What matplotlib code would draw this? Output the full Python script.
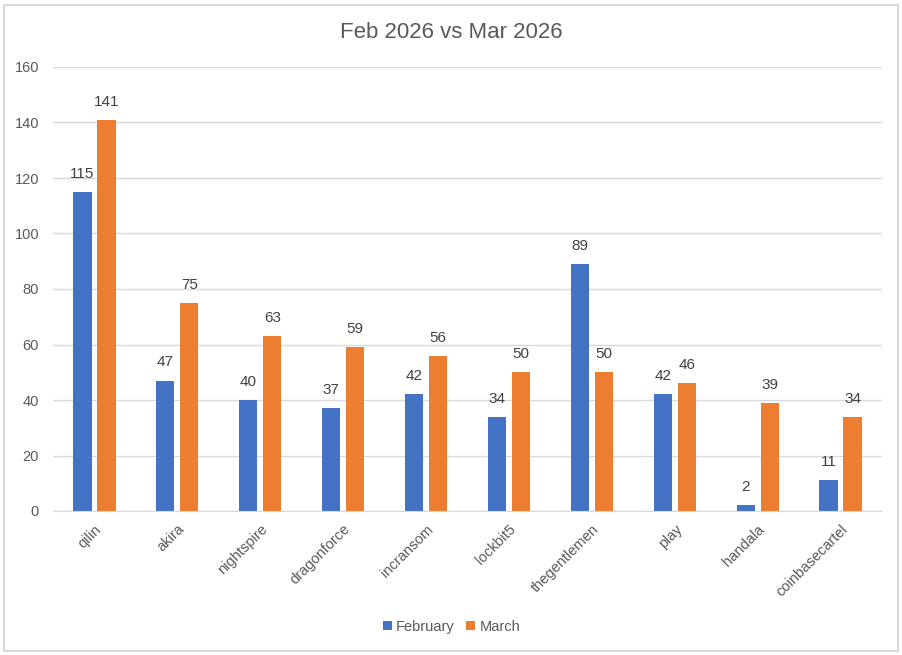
import numpy as np
import matplotlib.pyplot as plt
from matplotlib.patches import Rectangle

plt.rcParams['font.family'] = ['Liberation Sans', 'DejaVu Sans']

groups = ['qilin', 'akira', 'nightspire', 'dragonforce', 'incransom',
          'lockbit5', 'thegentlemen', 'play', 'handala', 'coinbasecartel']
february = [115, 47, 40, 37, 42, 34, 89, 42, 2, 11]
march = [141, 75, 63, 59, 56, 50, 50, 46, 39, 34]

blue = '#4472C4'
orange = '#ED7D31'
text_col = '#595959'

fig = plt.figure(figsize=(9.03, 6.55), dpi=100)
ax = fig.add_axes([53/903, 1 - 511/655, 829/903, 444/655])

x = np.arange(len(groups))
w = 0.22
off = 0.145
b1 = ax.bar(x - off, february, w, color=blue, label='February')
b2 = ax.bar(x + off, march, w, color=orange, label='March')

for bars, vals in ((b1, february), (b2, march)):
    for rect, v in zip(bars, vals):
        ax.text(rect.get_x() + rect.get_width() / 2, v + 4, str(v),
                ha='center', va='bottom', fontsize=11, color='#404040')

ax.set_xlim(-0.5, len(groups) - 0.5)
ax.set_ylim(0, 160)
ax.set_yticks(range(0, 161, 20))
ax.set_xticks(x)
ax.set_xticklabels(groups, rotation=45, ha='right', rotation_mode='anchor')
ax.tick_params(axis='both', length=0, labelsize=10.5, labelcolor=text_col)
ax.tick_params(axis='y', pad=10)
ax.tick_params(axis='x', pad=8)
ax.grid(axis='y', color='#d9d9d9', linewidth=1)
ax.set_axisbelow(True)
for s in ['top', 'right', 'left']:
    ax.spines[s].set_visible(False)
ax.spines['bottom'].set_color('#d9d9d9')

fig.text(0.5, 1 - 32/655, 'Feb 2026 vs Mar 2026', ha='center', va='center',
         fontsize=16, color=text_col)

fig.legend(loc='center', bbox_to_anchor=(0.5, 1 - 627/655), ncol=2, frameon=False,
           fontsize=10.5, labelcolor=text_col, handlelength=0.6, handleheight=0.6,
           handletextpad=0.3, columnspacing=0.8)

fig.patches.append(Rectangle((4/903, 4/655), 894/903, 646/655, transform=fig.transFigure,
                             fill=False, edgecolor='#d9d9d9', linewidth=1.5))

fig.savefig('out.png', dpi=100)
